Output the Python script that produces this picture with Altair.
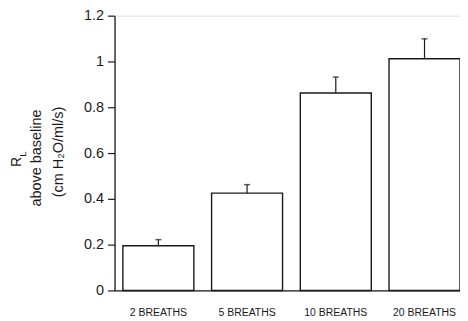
import altair as alt
import pandas as pd

categories = ["2 BREATHS", "5 BREATHS", "10 BREATHS", "20 BREATHS"]
means = [0.195, 0.425, 0.862, 1.012]
upper = [0.222, 0.462, 0.932, 1.099]

df = pd.DataFrame({"cat": categories, "mean": means, "upper": upper})

FONT = "Liberation Sans"
INK = "#1a1a1a"

x = alt.X("cat:N", sort=categories, title=None,
          scale=alt.Scale(paddingInner=0.2, paddingOuter=0.047, align=1),
          axis=alt.Axis(labelAngle=0, ticks=False, domain=True, domainColor=INK,
                        domainWidth=1.3, labelFont=FONT, labelFontSize=10.5,
                        labelColor=INK, labelPadding=17))
y = alt.Y("mean:Q", title=None,
          scale=alt.Scale(domain=[0, 1.2], nice=False),
          axis=alt.Axis(values=[0, 0.2, 0.4, 0.6, 0.8, 1.0, 1.2], grid=False,
                        tickSize=7, tickColor=INK, tickWidth=1.2, domainColor=INK,
                        domainWidth=1.3, labelFont=FONT, labelFontSize=14.5,
                        labelColor=INK, labelPadding=4, format="~g"))

base = alt.Chart(df)

bars = base.mark_bar(fill="white", stroke=INK, strokeWidth=1.4).encode(x=x, y=y)

err = base.mark_rule(color=INK, strokeWidth=1.2).encode(
    x=alt.X("cat:N", sort=categories), y="mean:Q", y2="upper:Q")
cap = base.mark_tick(color=INK, thickness=1.5, size=6, orient="horizontal").encode(
    x=alt.X("cat:N", sort=categories), y="upper:Q")

title_lines = pd.DataFrame({"t": ["dummy"]})

def label(text, xv, yv, size):
    return alt.Chart(title_lines).mark_text(
        angle=270, align="center", baseline="middle", font=FONT,
        fontSize=size, color=INK, text=text
    ).encode(x=alt.value(xv), y=alt.value(yv))

t1 = label("R", -98, 147, 14)
t1b = label("L", -92, 139, 9.5)
t2 = label("above baseline", -78, 143, 14.5)
t3 = label("(cm H\u2082O/ml/s)", -56, 137, 14.5)

chart = alt.layer(bars, err, cap, t1, t1b, t2, t3).properties(
    width=347, height=276,
    autosize=alt.AutoSizeParams(type="none"),
    padding={"left": 107, "top": 7, "right": 0, "bottom": 28},
).configure_view(stroke=None).configure(background="white")

chart.save("out.html", embed_options={"renderer": "svg", "actions": False})
